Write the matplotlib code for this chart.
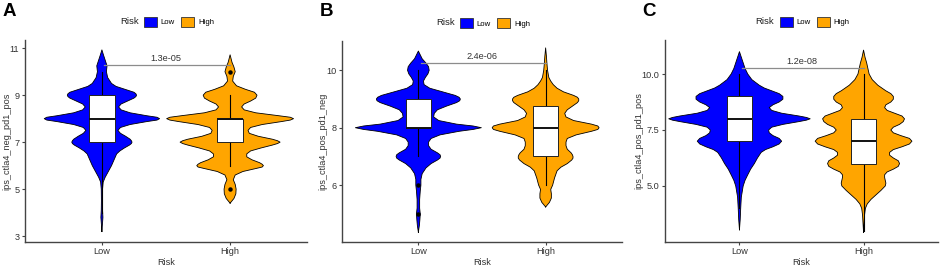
import numpy as np
import matplotlib
matplotlib.use("Agg")
import matplotlib.pyplot as plt
from matplotlib.patches import Patch

plt.rcParams['font.family'] = ['Liberation Sans', 'DejaVu Sans']

LOW_COLOR = '#0000FF'
HIGH_COLOR = '#FFA500'

groups = ['Low', 'High']

# violin outlines: y value and half width (x units)
a_low_y = [3.19, 3.5, 3.8, 4.1, 4.5, 5.0, 5.3, 5.5, 5.75, 6.0, 6.25, 6.5, 6.625, 6.75, 6.875, 6.94, 7.0, 7.06,
           7.125, 7.25, 7.375, 7.5, 7.625, 7.75, 7.875, 7.94, 8.0, 8.06, 8.125, 8.25, 8.375, 8.5, 8.625, 8.75,
           8.875, 8.94, 9.0, 9.06, 9.125, 9.25, 9.375, 9.5, 9.75, 10.0, 10.25, 10.5, 10.75, 10.93]
a_low_w = [0, 0.004, 0.008, 0.005, 0.004, 0.005, 0.01, 0.025, 0.05, 0.075, 0.095, 0.115, 0.14, 0.175, 0.215, 0.23,
           0.235, 0.23, 0.22, 0.185, 0.145, 0.125, 0.145, 0.22, 0.35, 0.43, 0.45, 0.43, 0.35, 0.22, 0.15, 0.13,
           0.15, 0.2, 0.25, 0.265, 0.27, 0.265, 0.25, 0.18, 0.11, 0.075, 0.045, 0.035, 0.04, 0.025, 0.01, 0]
a_high_y = [4.4, 4.6, 4.8, 5.0, 5.2, 5.4, 5.6, 5.75, 5.875, 5.94, 6.0, 6.06, 6.125, 6.25, 6.375, 6.5, 6.625, 6.75,
            6.875, 6.94, 7.0, 7.06, 7.125, 7.25, 7.375, 7.5, 7.625, 7.75, 7.875, 7.94, 8.0, 8.06, 8.125, 8.25,
            8.375, 8.5, 8.625, 8.75, 8.875, 9.0, 9.125, 9.25, 9.4, 9.6, 9.8, 10.0, 10.2, 10.4, 10.72]
a_high_w = [0, 0.03, 0.045, 0.047, 0.04, 0.025, 0.04, 0.1, 0.2, 0.25, 0.26, 0.25, 0.23, 0.17, 0.13, 0.13, 0.16,
            0.24, 0.33, 0.37, 0.39, 0.37, 0.33, 0.22, 0.15, 0.14, 0.16, 0.25, 0.4, 0.47, 0.495, 0.47, 0.38, 0.2,
            0.11, 0.09, 0.11, 0.16, 0.2, 0.21, 0.19, 0.12, 0.05, 0.02, 0.025, 0.04, 0.03, 0.015, 0]

b_low_y = [4.36, 4.6, 4.8, 5.0, 5.2, 5.5, 5.8, 6.0, 6.2, 6.4, 6.6, 6.75, 6.875, 6.94, 7.0, 7.06, 7.125, 7.25,
           7.375, 7.5, 7.625, 7.75, 7.875, 7.94, 8.0, 8.06, 8.125, 8.25, 8.375, 8.5, 8.625, 8.75, 8.875, 8.94,
           9.0, 9.06, 9.125, 9.25, 9.375, 9.5, 9.625, 9.75, 9.875, 10.0, 10.125, 10.25, 10.4, 10.67]
b_low_w = [0, 0.008, 0.012, 0.015, 0.01, 0.01, 0.015, 0.02, 0.02, 0.03, 0.06, 0.1, 0.15, 0.17, 0.175, 0.17,
           0.15, 0.1, 0.08, 0.08, 0.1, 0.17, 0.32, 0.43, 0.495, 0.43, 0.3, 0.16, 0.12, 0.125, 0.15, 0.22, 0.3,
           0.325, 0.33, 0.32, 0.29, 0.19, 0.09, 0.045, 0.04, 0.055, 0.075, 0.085, 0.08, 0.06, 0.03, 0]
b_high_y = [5.24, 5.4, 5.55, 5.7, 5.85, 6.0, 6.25, 6.5, 6.625, 6.75, 6.875, 6.94, 7.0, 7.06, 7.125, 7.25, 7.375,
            7.5, 7.625, 7.75, 7.875, 7.94, 8.0, 8.06, 8.125, 8.25, 8.375, 8.5, 8.625, 8.75, 8.875, 8.94, 9.0,
            9.06, 9.125, 9.25, 9.375, 9.5, 9.625, 9.75, 10.0, 10.25, 10.5, 10.78]
b_high_w = [0, 0.03, 0.045, 0.045, 0.04, 0.055, 0.07, 0.09, 0.12, 0.17, 0.205, 0.215, 0.215, 0.21, 0.2, 0.17,
            0.16, 0.16, 0.17, 0.24, 0.36, 0.41, 0.42, 0.41, 0.36, 0.22, 0.16, 0.15, 0.17, 0.21, 0.25, 0.26, 0.26,
            0.25, 0.22, 0.14, 0.09, 0.06, 0.04, 0.025, 0.015, 0.01, 0.006, 0]

c_low_y = [3.04, 3.5, 4.0, 4.5, 5.0, 5.25, 5.5, 5.75, 6.0, 6.25, 6.5, 6.625, 6.75, 6.875, 7.0, 7.125, 7.25, 7.375,
           7.5, 7.625, 7.75, 7.875, 7.94, 8.0, 8.06, 8.125, 8.25, 8.375, 8.5, 8.625, 8.75, 8.875, 9.0, 9.125,
           9.25, 9.375, 9.5, 9.75, 10.0, 10.25, 10.5, 10.75, 11.0]
c_low_w = [0, 0.006, 0.01, 0.015, 0.03, 0.045, 0.067, 0.09, 0.12, 0.145, 0.175, 0.21, 0.27, 0.32, 0.34, 0.32,
           0.27, 0.24, 0.235, 0.26, 0.35, 0.48, 0.54, 0.57, 0.54, 0.48, 0.34, 0.26, 0.24, 0.27, 0.32, 0.35, 0.35,
           0.32, 0.26, 0.2, 0.16, 0.1, 0.067, 0.045, 0.03, 0.015, 0]
c_high_y = [2.93, 3.3, 3.7, 4.0, 4.2, 4.4, 4.6, 4.8, 5.0, 5.125, 5.25, 5.375, 5.5, 5.625, 5.75, 5.875, 6.0, 6.125,
            6.25, 6.375, 6.5, 6.625, 6.75, 6.875, 7.0, 7.125, 7.25, 7.375, 7.5, 7.625, 7.75, 7.875, 8.0, 8.125,
            8.25, 8.375, 8.5, 8.625, 8.75, 8.875, 9.0, 9.125, 9.25, 9.5, 9.75, 10.0, 10.25, 10.5, 10.75, 11.07]
c_high_w = [0, 0.004, 0.008, 0.015, 0.03, 0.06, 0.1, 0.14, 0.175, 0.18, 0.175, 0.17, 0.17, 0.19, 0.24, 0.28,
            0.29, 0.28, 0.24, 0.21, 0.21, 0.24, 0.31, 0.37, 0.39, 0.37, 0.3, 0.24, 0.22, 0.24, 0.29, 0.32, 0.33,
            0.31, 0.25, 0.19, 0.17, 0.18, 0.22, 0.24, 0.24, 0.22, 0.18, 0.115, 0.07, 0.045, 0.035, 0.025, 0.012, 0]

# box stats per group: q1, median, q3, whisker low, whisker high
a_box = [(7, 8, 9, 4, 10), (7, 8, 8, 6, 9)]
b_box = [(8, 8, 9, 7, 10), (7, 8, 8.75, 6, 10)]
c_box = [(7, 8, 9, 4, 10), (6, 7, 8, 3, 10)]
a_outliers = [[], [5, 10]]
b_outliers = [[6, 5], []]
c_outliers = [[], []]

p_values = ['1.3e-05', '2.4e-06', '1.2e-08']
bracket_y = [10.3, 10.26, 10.28]
y_labels = ['ips_ctla4_neg_pd1_pos', 'ips_ctla4_pos_pd1_neg', 'ips_ctla4_pos_pd1_pos']
panel_tags = ['A', 'B', 'C']

W, H = 941, 267


def px_box(l, t, r, b):
    return [l / W, 1 - b / H, (r - l) / W, (b - t) / H]


def draw_panel(ax, violins, boxes, outliers, pval, by, ylabel, ylim, yticks, ytick_labels, ylab_px):
    colors = [LOW_COLOR, HIGH_COLOR]
    for i, (vy, vw) in enumerate(violins):
        xc = i + 1
        vy = np.array(vy)
        vw = np.array(vw)
        ax.fill_betweenx(vy, xc - vw, xc + vw, facecolor=colors[i], edgecolor='none', zorder=2)
        ax.plot(np.concatenate([xc - vw, (xc + vw)[::-1]]), np.concatenate([vy, vy[::-1]]),
                color='black', lw=0.6, zorder=3)
    for i, (q1, med, q3, wlo, whi) in enumerate(boxes):
        xc = i + 1
        ax.plot([xc, xc], [wlo, q1], color='black', lw=0.8, zorder=4)
        ax.plot([xc, xc], [q3, whi], color='black', lw=0.8, zorder=4)
        ax.bar(xc, q3 - q1, bottom=q1, width=0.2, color='white', edgecolor='#222222',
               linewidth=0.7, zorder=5)
        ax.plot([xc - 0.1, xc + 0.1], [med, med], color='#111111', lw=1.4, zorder=6,
                solid_capstyle='butt')
        if outliers[i]:
            ax.plot([xc] * len(outliers[i]), outliers[i], 'o', color='black', ms=2.2, zorder=6)
    ax.plot([1.02, 2], [by, by], color='#8c8c8c', lw=0.9, zorder=7)
    ax.text(1.5, by + 0.01 * (ylim[1] - ylim[0]), pval, ha='center', va='bottom',
            fontsize=6.6, color='#333333', zorder=8)

    ax.set_xlim(0.4, 2.6)
    ax.set_ylim(*ylim)
    ax.set_xticks([1, 2])
    ax.set_xticklabels(groups)
    ax.set_yticks(yticks)
    ax.set_yticklabels(ytick_labels)
    ax.set_xlabel('Risk', fontsize=6.6, color='#333333', labelpad=1.5)
    ax.set_ylabel(ylabel, fontsize=6.6, color='#333333')
    wpx = ax.get_position().width * W
    left_px = ax.get_position().x0 * W
    ax.yaxis.set_label_coords((ylab_px - left_px) / wpx, 0.5)
    for s in ['top', 'right']:
        ax.spines[s].set_visible(False)
    for s in ['left', 'bottom']:
        ax.spines[s].set_color('#444444')
        ax.spines[s].set_linewidth(1.0)
    ax.tick_params(length=2.5, width=0.8, color='#444444', labelsize=6.6,
                   labelcolor='#333333', pad=1.5)

    # legend: "Risk" title to the left of the two keys
    handles = [Patch(facecolor=LOW_COLOR, edgecolor='#333333', linewidth=0.6, label='Low'),
               Patch(facecolor=HIGH_COLOR, edgecolor='#333333', linewidth=0.6, label='High')]
    ax.legend(handles=handles, ncol=2, loc='center left', bbox_to_anchor=(0.5 - 22 / wpx, 1.09),
              frameon=False, fontsize=5.6, handlelength=1.7, handleheight=1.5, handletextpad=0.45,
              columnspacing=0.8, borderpad=0, borderaxespad=0)
    ax.text(0.5 - 46 / wpx, 1.09, 'Risk', transform=ax.transAxes, ha='left', va='center',
            fontsize=6.8, color='#222222')


fig = plt.figure(figsize=(W / 100, H / 100), dpi=100)
ax_a = fig.add_axes(px_box(25, 40, 307, 241.7))
ax_b = fig.add_axes(px_box(342, 41, 622, 241.7))
ax_c = fig.add_axes(px_box(665, 40, 938, 241.7))

draw_panel(ax_a, [(a_low_y, a_low_w), (a_high_y, a_high_w)], a_box, a_outliers, p_values[0], bracket_y[0],
           y_labels[0], (2.76, 11.35), [3, 5, 7, 9, 11], ['3', '5', '7', '9', '11'], 11)
draw_panel(ax_b, [(b_low_y, b_low_w), (b_high_y, b_high_w)], b_box, b_outliers, p_values[1], bracket_y[1],
           y_labels[1], (4.03, 11.02), [6, 8, 10], ['6', '8', '10'], 327)
draw_panel(ax_c, [(c_low_y, c_low_w), (c_high_y, c_high_w)], c_box, c_outliers, p_values[2], bracket_y[2],
           y_labels[2], (2.51, 11.52), [5.0, 7.5, 10.0], ['5.0', '7.5', '10.0'], 643)

for tag, xpx in zip(panel_tags, [3, 320, 642]):
    fig.text(xpx / W, 1 - 3 / H, tag, ha='left', va='top', fontsize=13.5, fontweight='bold', color='black')

fig.savefig('out.png', dpi=100)
